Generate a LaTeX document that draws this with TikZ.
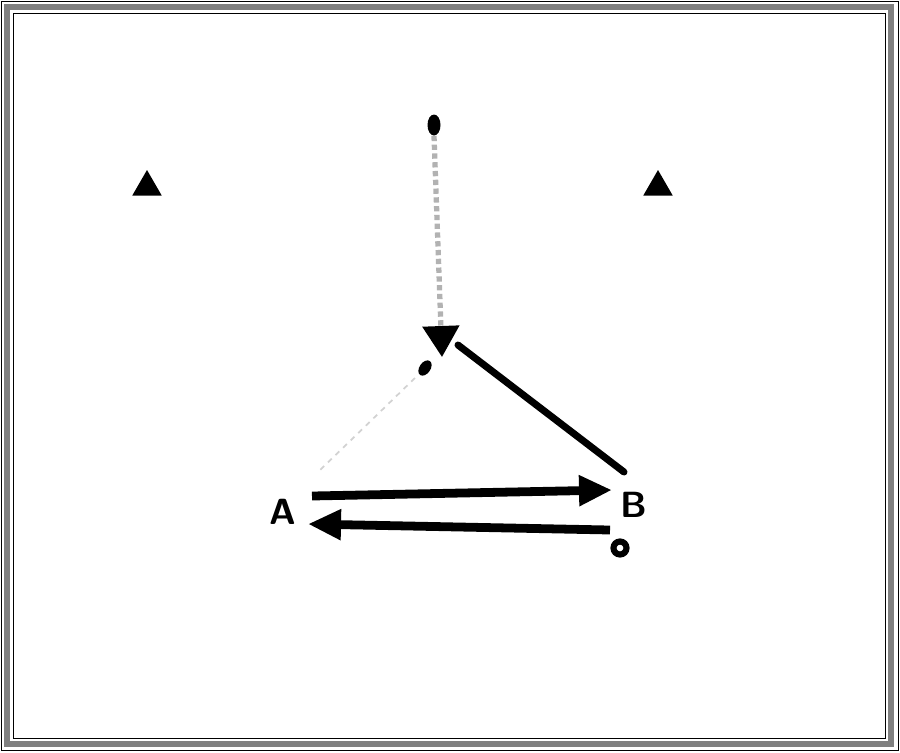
\documentclass[tikz,border=0pt]{standalone}
\usepackage{tikz}
\usetikzlibrary{arrows.meta, shapes.geometric, positioning}

\tikzset{
  marker/.style={regular polygon, regular polygon sides=3, fill=black, minimum size=0.68cm, inner sep=0pt},
  drop/.style={ellipse, fill=black, minimum width=0.26cm, minimum height=0.42cm, inner sep=0pt},
  bar/.style={line width=5pt, -{Triangle[length=0.66cm, width=0.58cm]}},
  letter/.style={font=\sffamily\bfseries\huge}
}

\begin{document}
\begin{tikzpicture}[x=0.02cm, y=-0.02cm]
    \useasboundingbox (0,0) rectangle (900,752);
    % frame
    \draw[black, thin] (1,1) rectangle (898,750);
    \draw[gray, line width=3pt] (7,7) rectangle (891,744);
    \draw[black, thin] (13,13) rectangle (885,738);

    \node[marker] (left) at (147,187) {};
    \node[marker] (right) at (658,187) {};

    \node[drop] (top) at (434,125) {};
    \node[drop, minimum width=0.22cm, minimum height=0.34cm, rotate=-35] (tail) at (425,368) {};
    \coordinate (apex) at (442,357);

    \node[letter] (a) at (283,512) {A};
    \node[letter] (b) at (634,505) {B};
    \node[circle, draw=black, line width=3.5pt, minimum size=0.26cm, inner sep=0pt] (o) at (620,548) {};

    \coordinate (a1) at (312,496);
    \coordinate (b1) at (612,490);
    \coordinate (b2) at (610,530);
    \coordinate (a2) at (308,524);
    \coordinate (b3) at (624,472);
    \coordinate (a3) at (318,472);

    \draw[gray!60, dotted, line width=3pt, -{Triangle[length=0.62cm, width=0.72cm, black]}]
    (top.south) -- (apex);
    \draw[line width=4pt, line cap=round] (b3) -- (458,345);
    \draw[gray!35, dashed, line width=1pt] (415,378) -- (a3);
    \draw[bar] (a1) -- (b1);
    \draw[bar] (b2) -- (a2);
\end{tikzpicture}
\end{document}
